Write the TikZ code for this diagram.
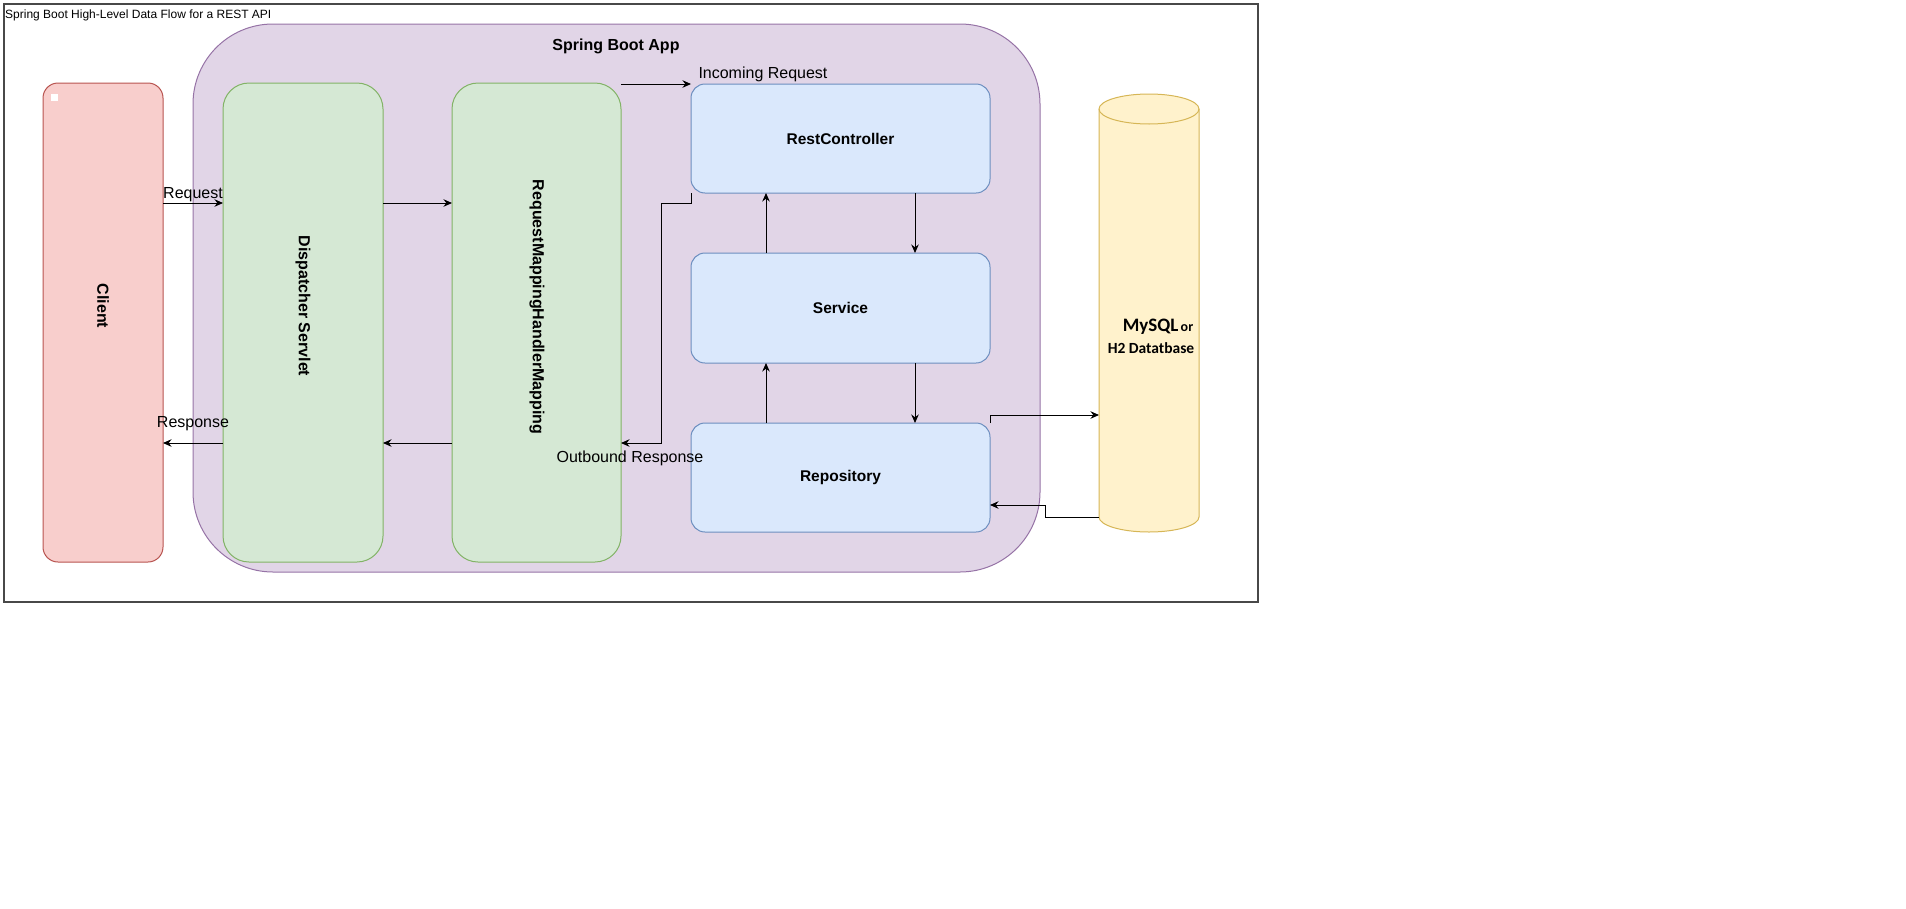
\documentclass[tikz,border=0pt]{standalone}
\usepackage{fontspec}
\setmainfont{Liberation Sans}
\newfontfamily\dbfont{Carlito}
\usetikzlibrary{arrows.meta}
\definecolor{appfill}{HTML}{E1D5E7}
\definecolor{appline}{HTML}{9673A6}
\definecolor{webfill}{HTML}{D5E8D4}
\definecolor{webline}{HTML}{82B366}
\definecolor{layerfill}{HTML}{DAE8FC}
\definecolor{layerline}{HTML}{6C8EBF}
\definecolor{clientfill}{HTML}{F8CECC}
\definecolor{clientline}{HTML}{B85450}
\definecolor{dbfill}{HTML}{FFF2CC}
\definecolor{dbline}{HTML}{D6B656}
\definecolor{frameline}{HTML}{484848}

\begin{document}
\begin{tikzpicture}[x=1pt,y=-1pt,
	box/.style={draw,inner sep=0,outer sep=0,line width=1pt},
	webbox/.style={box,draw=webline,fill=webfill,rounded corners=26pt,minimum width=#1,minimum height=479pt},
	layerbox/.style={box,draw=layerline,fill=layerfill,rounded corners=14pt,minimum width=299pt,minimum height=109pt,font=\fontsize{15.5}{18}\selectfont\bfseries},
	flow/.style={line width=1pt,-{Stealth[length=8.5pt,width=7.5pt]}},
	lbl/.style={inner sep=0,font=\fontsize{16}{19}\selectfont},
	vtext/.style={inner sep=0,rotate=-90,font=\fontsize{16}{19}\selectfont\bfseries}]
	\useasboundingbox (0,0) rectangle (1906,908);
	\node[draw=frameline,line width=1.5pt,inner sep=0,outer sep=0,minimum width=1254pt,minimum height=598pt] (frame) at (631,303) {};
	\node[anchor=base west,inner sep=0,font=\fontsize{12}{14}\selectfont] (title) at (5,18) {Spring Boot High-Level Data Flow for a REST API};
	\node[box,draw=appline,fill=appfill,rounded corners=80pt,minimum width=847pt,minimum height=548pt] (app) at (616.5,298) {};
	\node[anchor=base,inner sep=0,font=\fontsize{16}{19}\selectfont\bfseries] (apptitle) at (616,50) {Spring Boot App};
	\node[box,draw=clientline,fill=clientfill,rounded corners=15pt,minimum width=120pt,minimum height=479pt] (client) at (103,322.5) {};
	\node[fill=white,inner sep=0,minimum size=7pt] (dot) at (54,97) {};
	\node[vtext] (clienttext) at (103,306) {Client};
	\node[webbox=160pt] (disp) at (303,322.5) {};
	\node[vtext] (disptext) at (303,306) {Dispatcher Servlet};
	\node[webbox=169pt] (rmh) at (536.5,322.5) {};
	\node[vtext] (rmhtext) at (537,307) {RequestMappingHandlerMapping};
	\node[layerbox] (rest) at (840.5,138.5) {RestController};
	\node[layerbox,minimum height=110pt] (svc) at (840.5,308) {Service};
	\node[layerbox] (repo) at (840.5,477.5) {Repository};
	\node[inner sep=0,outer sep=0,minimum width=100pt,minimum height=438pt] (db) at (1149,313) {};
	\draw[dbline,fill=dbfill,line width=1pt] ([yshift=-15pt]db.north west) -- ([yshift=15pt]db.south west) arc[start angle=180,end angle=360,x radius=50pt,y radius=15pt] -- ([yshift=-15pt]db.north east) arc[start angle=0,end angle=180,x radius=50pt,y radius=15pt] -- cycle;
	\draw[dbline,line width=1pt] ([yshift=-15pt]db.north west) arc[start angle=180,end angle=360,x radius=50pt,y radius=15pt];
	\node[anchor=base,inner sep=0,font=\dbfont\bfseries] (dbtop) at (1158,331) {{\fontsize{19}{21}\selectfont MySQL} {\fontsize{14}{16}\selectfont or}};
	\node[anchor=base,inner sep=0,font=\dbfont\bfseries\fontsize{15.5}{18}\selectfont] (dbbottom) at (1151,353) {H2 Datatbase};
	\coordinate (rowa) at (0,203);
	\coordinate (rowb) at (0,443);
	\coordinate (rowc) at (0,415);
	\coordinate (rowd) at (0,517);
	\coordinate (colu) at (766,0);
	\coordinate (cold) at (915,0);
	\coordinate (turn) at (661,443);
	\coordinate (back) at (1045,505);
	\draw[flow] (client.east |- rowa) -- node[lbl,anchor=base,yshift=5pt] {Request} (disp.west |- rowa);
	\draw[flow] (disp.east |- rowa) -- (rmh.west |- rowa);
	\draw[flow] (rest.north west -| rmh.east) -- (rest.north west) node[lbl,anchor=base west,xshift=7pt,yshift=6pt] {Incoming Request};
	\draw[flow] (rest.south west) -- (rest.south west |- rowa) -| (turn) -- node[lbl,anchor=base,xshift=-11pt,yshift=-19pt] {Outbound Response} (rmh.east |- rowb);
	\draw[flow] (rmh.west |- rowb) -- (disp.east |- rowb);
	\draw[flow] (disp.west |- rowb) -- node[lbl,anchor=base,yshift=16pt] {Response} (client.east |- rowb);
	\draw[flow] (svc.north -| colu) -- (rest.south -| colu);
	\draw[flow] (rest.south -| cold) -- (svc.north -| cold);
	\draw[flow] (repo.north -| colu) -- (svc.south -| colu);
	\draw[flow] (svc.south -| cold) -- (repo.north -| cold);
	\draw[flow] (repo.north east) |- (db.west |- rowc);
	\draw[flow] (db.west |- rowd) -| (back) -- (repo.east |- back);
\end{tikzpicture}
\end{document}
